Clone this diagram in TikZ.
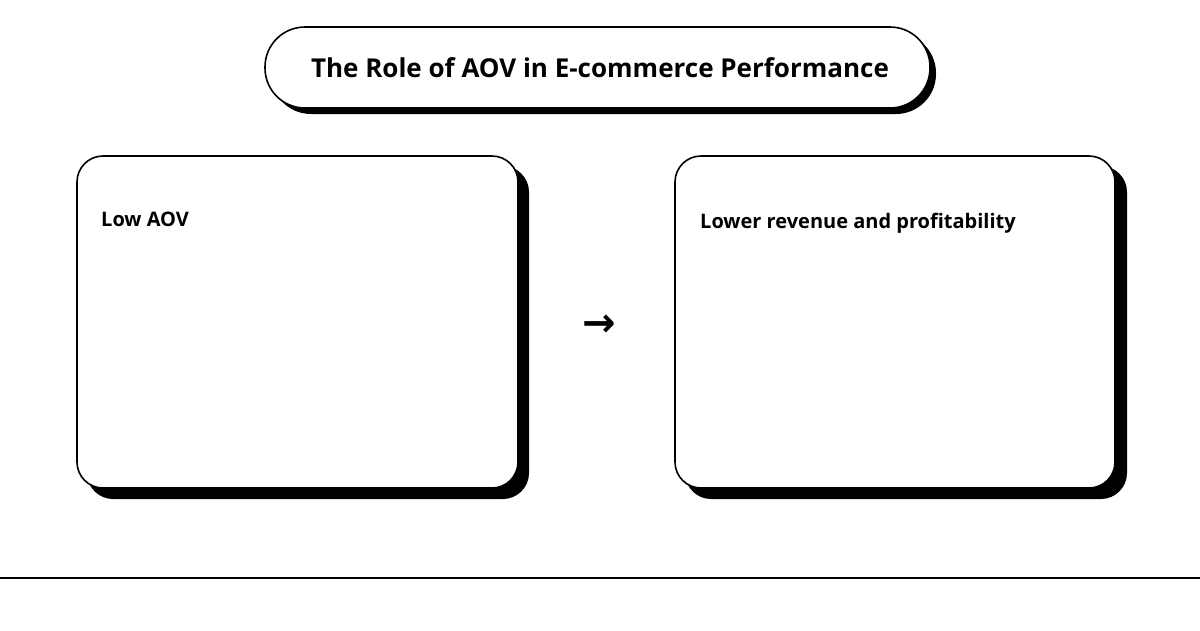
\documentclass[tikz,border=0pt]{standalone}
\usepackage{fontspec}
\setmainfont{Open Sans}
\newfontfamily\symfont{DejaVu Sans}
\begin{document}
\begin{tikzpicture}[x=1pt,y=-1pt,
  card/.style={draw=black,line width=1.6pt,fill=white},
  shadow/.style={fill=black}]
\useasboundingbox (0,0) rectangle (1200,630);
\fill[white] (0,0) rectangle (1200,630);
% title
\fill[shadow,rounded corners=40pt] (271,33) rectangle (936,114);
\draw[card,rounded corners=40pt] (265,27) rectangle (930,108);
\node[font=\bfseries\fontsize{26}{30}\selectfont] (title) at (600,68) {The Role of AOV in E-commerce Performance};
% left
\fill[shadow,rounded corners=26pt] (87,166) rectangle (529,499);
\draw[card,rounded corners=26pt] (77,156) rectangle (518,488);
\node[anchor=west,inner sep=0pt,font=\bfseries\fontsize{20}{24}\selectfont] (low) at (101,219) {Low AOV};
% right
\fill[shadow,rounded corners=26pt] (685,166) rectangle (1127,499);
\draw[card,rounded corners=26pt] (675,156) rectangle (1115,488);
\node[anchor=west,inner sep=0pt,font=\bfseries\fontsize{20}{24}\selectfont] (high) at (700,223) {Lower revenue and profitability};
% arrow
\node[font=\symfont\bfseries\fontsize{40}{40}\selectfont] (arr) at (599,326) {→};
% line
\coordinate (l1) at (0,578);
\coordinate (l2) at (1200,578);
\draw[line width=1.2pt] (l1) -- (l2);
\end{tikzpicture}
\end{document}
